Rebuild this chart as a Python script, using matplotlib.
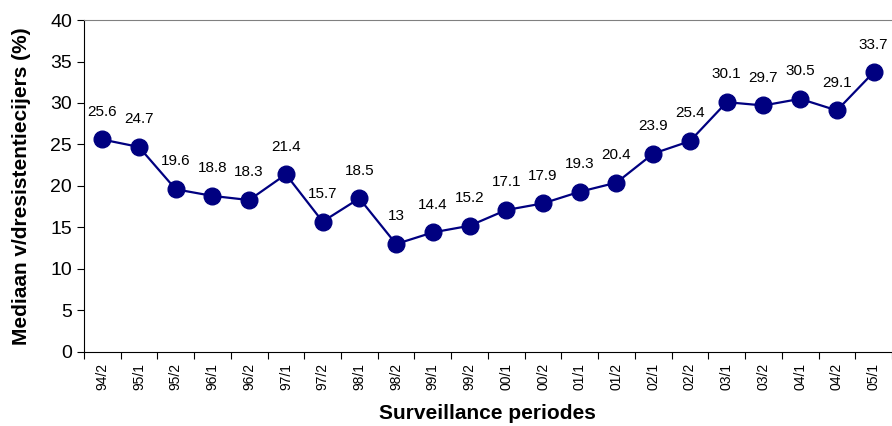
import matplotlib.pyplot as plt
import numpy as np

# Surveillance periods and median resistance values
periods = ['94/2', '95/1', '95/2', '96/1', '96/2', '97/1', '97/2', '98/1', '98/2',
           '99/1', '99/2', '00/1', '00/2', '01/1', '01/2', '02/1', '02/2', '03/1',
           '03/2', '04/1', '04/2', '05/1']
values = [25.6, 24.7, 19.6, 18.8, 18.3, 21.4, 15.7, 18.5, 13, 14.4, 15.2, 17.1,
          17.9, 19.3, 20.4, 23.9, 25.4, 30.1, 29.7, 30.5, 29.1, 33.7]
labels = ['25.6', '24.7', '19.6', '18.8', '18.3', '21.4', '15.7', '18.5', '13', '14.4',
          '15.2', '17.1', '17.9', '19.3', '20.4', '23.9', '25.4', '30.1', '29.7', '30.5',
          '29.1', '33.7']

plt.rcParams['font.family'] = ['Liberation Sans', 'DejaVu Sans']

fig = plt.figure(figsize=(8.92, 4.26), dpi=100)
ax = fig.add_axes([0.094, 0.174, 0.906, 0.779])

x = np.arange(len(periods))
ax.plot(x, values, color='#000080', linewidth=1.6, marker='o', markersize=12,
        markerfacecolor='#000080', markeredgecolor='#000080')

for xi, v, lab in zip(x, values, labels):
    ax.annotate(lab, (xi, v), xytext=(0, 20), textcoords='offset points',
                ha='center', va='center', fontsize=11)

ax.set_xlim(-0.5, len(periods) - 0.5)
ax.set_ylim(0, 40)
ax.set_yticks(range(0, 41, 5))
ax.tick_params(axis='y', labelsize=14, length=5, direction='out')

# ticks between categories, labels at centres
ax.set_xticks(np.arange(-0.5, len(periods), 1.0))
ax.set_xticklabels([])
ax.set_xticks(x, minor=True)
ax.set_xticklabels(periods, minor=True, rotation=90, fontsize=10)
ax.tick_params(axis='x', which='major', length=5, direction='out')
ax.tick_params(axis='x', which='minor', length=0, pad=8)

ax.spines['right'].set_visible(False)
ax.spines['top'].set_color('#808080')

ax.set_xlabel('Surveillance periodes', fontsize=15, fontweight='bold', labelpad=10)
ax.set_ylabel('Mediaan v/dresistentiecijers (%)', fontsize=15, fontweight='bold', labelpad=14)

plt.savefig('out.png', dpi=100)
plt.close()
